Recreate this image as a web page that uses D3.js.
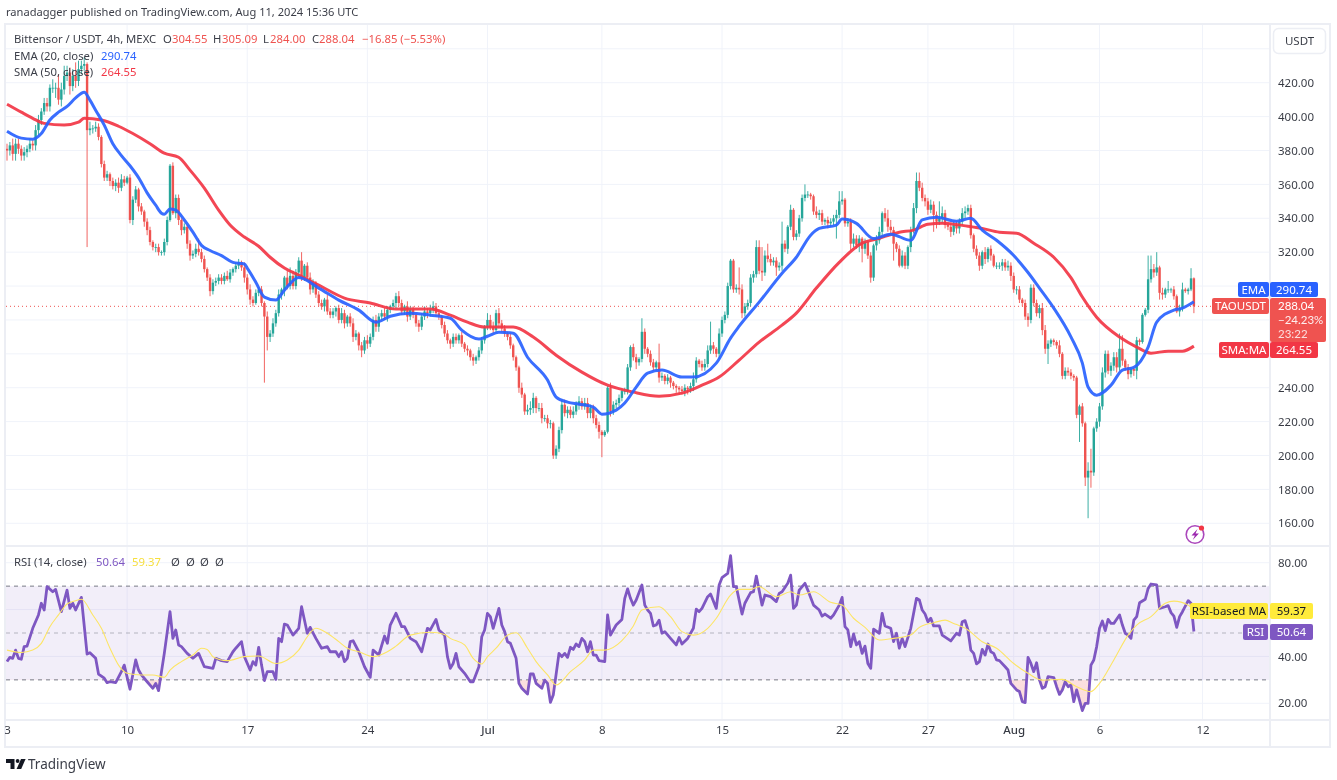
<!DOCTYPE html>
<html>
<head>
    <title>Bittensor / USDT, 4h</title>
    <script src="https://cdnjs.cloudflare.com/ajax/libs/d3/7.8.5/d3.min.js"></script>
    <style>
        html, body { margin: 0; padding: 0; background: #ffffff; }
        text { font-family: "Noto Sans", sans-serif; }
        #chart { display: block; filter: blur(0.3px); }
    </style>
</head>
<body>
<svg id="chart" width="1337" height="780"></svg>
<script>
// 4h candles, one value per candle. open = previous close
var firstOpen = 381;
var closes = [
380,383,378,384,381,377,379,381,384,383,
392,398,403,408,406,417,417,417,410,416,
424,426,418,424,421,428,430,431,392,393,
393,394,388,372,364,366,362,359,361,358,
363,361,364,339,351,357,347,344,338,333,
326,323,323,320,320,326,339,371,343,352,
339,333,335,325,318,319,322,320,316,310,
305,297,302,303,305,303,306,304,308,310,
312,314,311,305,298,292,290,296,298,290,
282,270,272,278,284,295,298,305,300,306,
300,308,315,305,312,305,298,302,295,290,
288,292,285,283,285,287,280,284,278,282,
278,270,272,265,262,268,266,270,280,276,
282,284,282,286,288,290,294,290,285,288,
282,286,283,278,276,282,285,284,286,288,
284,282,277,272,268,266,270,268,271,266,
263,262,258,256,258,262,268,276,280,276,
274,284,278,275,272,270,265,258,252,240,
236,226,227,228,234,228,228,222,222,219,
219,200,204,215,230,225,227,224,226,230,
232,229,231,225,228,222,218,214,212,214,
240,226,230,231,234,238,238,252,264,258,
255,257,273,263,260,255,252,255,246,247,
244,246,243,241,240,239,238,240,239,241,
245,256,254,252,254,262,265,263,260,272,
280,283,300,315,298,299,298,284,288,290,
305,307,323,309,308,318,316,314,315,311,
312,325,322,335,345,329,331,340,352,354,
354,353,344,342,343,338,339,337,338,340,
342,350,351,337,338,325,328,324,328,322,
326,318,305,324,327,332,343,340,335,333,
325,322,312,318,312,323,333,346,362,358,
352,350,345,348,342,338,340,343,336,335,
332,336,334,338,343,344,346,330,322,318,
312,320,316,322,318,312,312,312,314,311,
312,306,298,298,292,290,282,280,299,290,
284,287,274,263,266,268,267,265,260,247,
250,249,247,246,224,229,219,187,191,190,
216,220,229,249,260,250,253,258,252,263,
256,252,248,251,250,268,267,283,286,304,
310,308,311,296,295,298,298,298,294,285,
287,298,297,298,304.55,288.04
];
var upperWicks = [
3,2,4,3,3,2,3,2,3,2,
3,3,2,3,3,2,5,3,8,4,
6,4,3,4,8,5,3,4,1,4,
2,3,2,1,2,2,1,2,2,3,
3,2,1,2,2,2,1,2,1,2,
2,1,2,2,1,2,2,1,2,2,
2,1,2,1,2,2,3,6,2,2,
1,2,2,2,2,2,2,3,2,1,
2,2,1,3,2,3,2,2,1,2,
1,3,2,3,2,3,1,1,4,5,
3,2,2,5,1,2,3,2,1,2,
2,1,3,2,2,1,2,3,2,1,
2,3,2,1,2,2,3,2,2,3,
2,2,3,2,1,2,2,3,2,1,
3,2,2,1,2,2,3,2,3,3,
2,2,1,2,2,1,2,2,1,2,
1,2,1,2,1,2,2,1,4,3,
3,2,3,2,2,1,2,1,1,1,
3,1,3,4,3,1,3,3,2,2,
2,1,2,2,3,3,2,2,3,2,
3,2,3,3,2,2,2,2,1,1,
1,3,2,2,2,1,2,2,1,2,
2,1,8,2,1,2,2,1,11,2,
1,2,1,1,1,1,2,2,1,2,
4,2,1,2,3,3,14,2,1,3,
2,2,2,1,1,2,12,3,2,2,
2,2,4,4,14,3,7,3,2,2,
2,13,2,1,3,1,2,2,2,6,
2,1,1,3,2,2,1,2,2,2,
3,6,5,1,2,2,3,2,2,1,
2,1,2,1,3,3,1,3,5,4,
2,1,2,3,2,1,2,3,5,5,
3,2,2,3,2,2,10,4,2,2,
2,2,2,2,3,3,2,2,1,2,
2,1,3,1,2,1,2,2,2,2,
3,2,2,2,2,1,2,2,2,2,
2,2,3,3,2,1,1,1,3,1,
2,2,2,1,1,1,2,1,5,13,
1,2,2,3,2,2,2,3,3,9,
8,1,2,1,1,2,1,1,1,14,
8,3,9,1,3,1,5,1,2,1,
2,4,1,1,6,0.54
];
var lowerWicks = [
6,3,4,4,3,3,3,3,2,3,
3,3,3,2,3,3,3,6,3,4,
3,3,5,3,4,3,3,3,69,3,
3,2,2,2,2,2,3,2,3,3,
2,2,1,2,3,2,3,2,3,3,
2,2,3,2,2,2,2,1,1,3,
3,3,2,3,3,2,2,2,2,2,
2,3,2,2,2,2,2,1,2,2,
2,2,2,3,3,3,2,1,2,2,
39,8,3,2,2,2,3,4,2,2,
2,2,2,2,2,2,3,2,2,2,
2,3,2,2,2,3,2,2,3,2,
2,3,2,3,4,2,3,2,2,3,
3,2,2,3,2,2,3,2,2,2,
3,2,2,2,3,2,2,3,2,2,
2,2,2,2,2,3,2,2,2,2,
2,3,2,3,2,2,2,2,2,2,
2,2,3,2,2,2,2,2,2,3,
2,2,2,3,3,3,2,3,2,3,
3,2,2,2,2,2,3,2,2,2,
3,2,2,3,3,3,2,4,13,1,
1,3,2,2,2,2,2,2,2,2,
4,2,2,3,2,2,2,2,3,2,
2,2,3,2,3,3,2,3,3,2,
3,2,2,2,2,2,2,3,2,3,
2,2,2,2,2,2,3,3,2,2,
2,3,2,2,5,2,2,2,2,5,
2,3,2,3,2,2,2,2,2,2,
2,2,2,2,3,2,2,3,2,2,
12,2,2,2,2,4,2,2,4,8,
3,2,3,2,3,2,2,2,3,2,
10,2,1,1,2,2,3,2,3,2,
2,3,3,2,10,4,2,3,2,2,
3,2,3,3,2,3,2,2,2,2,
3,2,3,2,3,1,2,2,3,2,
2,3,2,3,2,2,2,4,2,2,
2,3,3,3,9,2,2,2,2,2,
2,2,2,2,2,16,2,5,24,9,
2,2,3,2,3,2,3,3,3,2,
3,2,3,2,3,5,2,1,1,2,
2,3,2,4,3,2,2,2,2,1,
3,2,1,2,1,4.04
];

// moving averages: [candle, price]
var ema20 = [
[0,391.4],[5,387.3],[9,386.7],[12,390],[15,398],[18,402.6],[21,406],[24,411],[27,414.4],[29,409.7],
[31,403.8],[34,395],[37,384],[40,377],[43,371],[46,364],[49,355],[52,347.7],[54,343],[55,342.4],
[57,345.4],[59,344.8],[62,339],[65,331.8],[68,324],[71,321],[75,318],[79,314],[83,313],[84,310.6],
[87,302.3],[90,293.5],[94,291.7],[97,297.6],[102,305],[109,298.8],[116,291.7],[123,285.8],[129,278.7],[134,282.2],
[141,284],[148,282.8],[155,281],[159,274],[165,268.7],[168,270.4],[172,272.8],[177,272.2],[182,258],[189,244.5],
[192,234.5],[196,231.5],[200,230.3],[205,228.5],[208,224.4],[213,226.8],[216,231],[220,240.4],[224,248.6],[229,250.4],
[236,246.3],[240,246.3],[248,254.5],[253,269.3],[256,276.3],[263,290.5],[271,307.6],[276,317],[281,330],[284,334],
[290,336],[292,339.5],[297,337],[303,328],[309,330.6],[316,327],[320,339],[325,340.6],[332,338.3],[337,340],
[341,333],[346,327],[352,318],[357,308],[361,298.8],[366,287],[372,270],[376,254.5],[378,240.4],[381,235.6],
[386,241.5],[390,250.4],[394,252],[399,264],[402,278.7],[408,285.8],[411,287],[415,290.74]
];
var sma50 = [
[0,407.3],[5,402.6],[9,399],[13,396],[20,395],[25,396.7],[27,399],[33,398],[39,394.3],[44,390],
[50,384],[55,378.4],[60,376],[64,368.4],[69,357.8],[74,344.8],[78,336],[83,328.9],[88,323.5],[92,317],
[97,310.6],[102,306.4],[109,300.5],[118,292.9],[127,290],[136,286.4],[148,286.4],[155,282.8],[161,278.7],[167,275.8],
[177,275.8],[184,269.9],[192,259.2],[201,249.2],[210,241.5],[219,237.4],[228,235],[236,236.8],[243,241.5],[249,246.3],
[256,256.3],[263,266.9],[271,276.9],[276,284],[283,298.8],[291,314],[299,325.3],[304,327.7],[312,331.8],[317,333],
[322,336.5],[327,337],[336,335.3],[341,334],[347,331.8],[353,331.2],[359,325.3],[366,317],[372,305],[376,293.5],
[381,281.6],[389,269.9],[395,264],[400,260.4],[406,261.6],[411,261.6],[415,264.55]
];

// RSI pane: [candle, value]
var rsi14 = [
[0,37.8],[1,39.6],[2,39.2],[3,42.7],[4,39.2],[5,38.8],[6,44.2],[7,44.4],[9,52],[11,57.7],[12,62.7],[13,59.8],[14,69.8],[16,67.6],[17,68.6],[19,59.1],
[21,68.3],[22,60.5],[23,62.7],[24,59.8],[26,65.2],[28,41],[29,41.6],[31,39.2],[32,32.5],[34,30.7],[35,28.8],[36,29.2],[38,28.8],[40,33.5],[41,36.3],[43,26],
[45,38.5],[46,34.2],[47,32.1],[49,29.2],[51,26.4],[52,28.5],[53,25.4],[55,41.3],[57,59.1],[58,47.7],[59,51.3],[60,44.9],[61,44.2],[63,41.3],[65,39.2],[67,41.3],
[69,35.6],[72,34.9],[73,39.2],[75,38.2],[77,37.8],[79,42],[80,43.5],[82,46.3],[83,39.9],[85,34.2],[86,37.8],[87,36.3],[88,43.9],[89,36.3],[90,29.7],[91,33.5],
[93,33.5],[94,30.2],[95,47.7],[96,46.3],[97,53.8],[98,53.4],[100,49.1],[102,52],[103,61.2],[105,49.9],[106,52.4],[108,47.7],[110,43.5],[112,44.2],[113,42],[115,42],
[116,39.9],[117,42],[118,37.8],[119,39.2],[120,46.3],[121,46.7],[123,42],[125,35.6],[127,31.1],[128,42.7],[130,40.6],[132,48.7],[133,45.6],[134,53.4],[136,58.4],[138,52.7],
[139,52.7],[141,47.7],[143,46.3],[145,42],[147,52],[148,51.3],[150,55.8],[151,51.3],[153,49.1],[154,39.9],[155,34.9],[156,37],[157,41.3],[158,35.6],[160,32.8],[162,29.2],
[163,29.2],[165,35.6],[166,48.4],[167,51.3],[168,58.4],[169,57],[170,52],[172,60.5],[173,53.4],[174,50.6],[175,46.3],[176,45.6],[178,39.2],[179,28.5],[180,26.4],[182,24],
[183,32.5],[184,32.5],[185,28.5],[187,26.4],[188,29.9],[189,28.5],[190,20.4],[191,23.5],[193,41.3],[194,39.9],[195,41.3],[196,39.6],[197,43.9],[198,43],[199,45.3],[200,44.2],
[201,47.7],[202,46.3],[203,42],[204,46.3],[205,40.6],[206,40.6],[207,38.2],[209,37.8],[210,57.7],[211,49.1],[212,51.3],[213,53.4],[215,55.8],[216,64.8],[217,68.8],[218,64.8],
[219,61.9],[220,64.1],[222,70.5],[223,61.9],[224,59.8],[225,58.4],[226,53],[227,53.4],[228,55.5],[229,49.9],[230,50.6],[232,47.7],[234,44.9],[235,48.1],[236,45.3],[238,47.7],
[240,52],[241,60.2],[242,59.1],[243,60.5],[245,65.5],[246,66.6],[248,60.5],[249,70.5],[250,73.6],[252,75.4],[253,83],[254,69.8],[255,69.8],[257,58.1],[258,62.7],[260,67.2],
[261,67.6],[262,74.3],[264,61.9],[265,66.2],[267,65.5],[269,63.4],[270,66.9],[271,67.6],[273,71.2],[274,74.7],[275,60.5],[276,61.9],[277,68.3],[279,71.2],[280,68.3],[282,61.9],
[284,59.8],[285,57.2],[286,58.1],[288,56.3],[289,57.7],[291,61.9],[292,65.2],[293,52.7],[294,51.3],[295,44.2],[296,49.6],[297,44.9],[298,46.3],[299,41.3],[300,44.4],[301,37],
[302,34.9],[303,51.6],[305,49.9],[306,58.4],[307,53],[309,52],[310,46.3],[311,49.9],[312,43.5],[313,47.7],[314,44.2],[316,52],[318,64.8],[319,64.1],[320,59.8],[321,58.1],
[322,54.8],[323,56.3],[324,53],[326,53],[327,49.1],[330,46.6],[332,49.9],[333,49.1],[334,54.8],[335,55.3],[336,51.3],[337,42.7],[338,41.3],[339,36.8],[340,37.8],[341,43],
[342,40.6],[343,45.3],[344,42],[345,41.3],[346,38.5],[347,38.2],[349,35.6],[350,34.2],[351,28.5],[353,25.7],[354,25],[355,20.7],[356,20.3],[357,39.6],[358,37],[359,33.5],
[360,37.3],[361,30],[362,26.4],[363,27.1],[364,31.4],[366,31],[367,27.1],[368,23.8],[369,25.7],[370,29.2],[371,27.1],[372,27.8],[373,20.7],[374,25.7],[376,16.9],[377,20],
[378,20],[379,36.3],[380,38.5],[381,44.2],[382,52],[383,55.1],[384,51],[385,55.8],[386,54.1],[387,54.1],[389,57.7],[390,53.4],[391,49.9],[392,49.1],[393,47.7],[394,55.5],
[395,57],[396,62.9],[398,64.4],[399,69],[400,70.9],[402,70.5],[403,60.5],[405,61.2],[406,61.7],[407,58.7],[408,57.2],[409,52.4],[410,57],[411,59.1],[413,63.8],[414,62.7],[415,50.64]
];
var rsiMa = [
[0,42.7],[5,41.7],[9,42.7],[12,45.6],[15,52.7],[18,57.7],[21,62.4],[24,63.8],[26,64.4],[30,57.7],[33,52],[36,43.5],[39,36.3],[42,32.8],[47,32.1],[51,32.1],[55,31.1],[57,34.2],
[61,37.8],[65,40.6],[68,43.5],[70,43],[72,39.9],[77,38.2],[83,39.9],[88,40.2],[94,37],[98,38.5],[102,42.7],[105,48.4],[108,52],[112,49.9],[116,46.3],[119,43.5],[123,42],[128,39.9],
[133,42],[136,44.4],[141,49.1],[148,50.3],[153,49.4],[155,47.7],[160,44.9],[163,39.2],[166,36.8],[168,39.9],[171,43.5],[175,49.1],[178,50.1],[182,43.5],[185,37.8],[189,32.1],[192,27.8],[197,33.5],
[202,38.5],[205,42.7],[209,42.7],[215,46.7],[219,53],[222,59.8],[228,61.2],[232,57],[236,50.6],[240,49.1],[245,52],[248,56.3],[253,66.2],[256,68.6],[260,68.6],[263,69.8],[269,65.5],[274,67.6],
[277,66.2],[282,67.6],[288,63.1],[292,61.9],[296,56.3],[300,52.4],[305,47],[310,47.7],[316,49.1],[319,52.4],[324,54.4],[328,55.5],[331,54.1],[336,51.3],[341,46.3],[346,43.5],[352,37],[357,32.8],
[362,29.9],[369,30.2],[374,27.1],[379,25],[382,28.5],[387,38.5],[392,49.1],[395,53.4],[400,57],[405,62.7],[408,63.6],[413,61.9],[415,59.37]
];

// axis labels
var priceTicks = [160,180,200,220,240,320,340,360,380,400,420];
var priceGrid = [160,180,200,220,240,260,280,300,320,340,360,380,400,420,440];
var rsiTicks = [20,40,80];
var rsiGrid = [20,40,60,80];
var rsiLevels = [70,50,30];
var dateTicks = [0,42,84,126,168,208,250,292,322,352,382,418];
var dateLabels = ["3","10","17","24","Jul","8","15","22","27","Aug","6","12"];

var upColor = "#26a69a", downColor = "#ef5350", gridColor = "#f0f3fa", frameColor = "#eceef4",
    emaColor = "#2962ff", smaColor = "#f23645", rsiColor = "#7e57c2", maColor = "#ffeb3b",
    textColor = "#131722";

// "top" is taken by window.top, so the frame edges get plain names of their own
var paneLeft = 6, axisX = 1270, frameRight = 1330, paneTop = 24, paneSplit = 546, rsiBottom = 720, frameBottom = 747;

var svg = d3.select("#chart");
var x = d3.scaleLinear().domain([0, 415]).range([7, 7 + 2.86 * 415]);
var y = d3.scaleLinear().domain([160, 420]).range([523.3, 82.7]);
var yRsi = d3.scaleLinear().domain([20, 80]).range([703.3, 562.7]);

var candles = closes.map(function (c, i) {
    var o = i === 0 ? firstOpen : closes[i - 1];
    return { i: i, o: o, c: c, h: Math.max(o, c) + upperWicks[i], l: Math.min(o, c) - lowerWicks[i] };
});

var defs = svg.append("defs");
defs.append("clipPath").attr("id", "pricePane").append("rect")
    .attr("x", paneLeft).attr("y", paneTop).attr("width", axisX - paneLeft).attr("height", paneSplit - paneTop);
defs.append("clipPath").attr("id", "rsiPane").append("rect")
    .attr("x", paneLeft).attr("y", paneSplit).attr("width", axisX - paneLeft).attr("height", rsiBottom - paneSplit);
defs.append("clipPath").attr("id", "dateBand").append("rect")
    .attr("x", paneLeft - 1).attr("y", rsiBottom).attr("width", axisX - paneLeft).attr("height", frameBottom - rsiBottom);
defs.append("clipPath").attr("id", "belowThirty").append("rect")
    .attr("x", paneLeft).attr("y", yRsi(30)).attr("width", axisX - paneLeft).attr("height", rsiBottom - yRsi(30));
var oversold = defs.append("linearGradient").attr("id", "oversold").attr("x1", 0).attr("x2", 0).attr("y1", 0).attr("y2", 1);
oversold.append("stop").attr("offset", "0%").attr("stop-color", "#ef5350").attr("stop-opacity", 0.02);
oversold.append("stop").attr("offset", "100%").attr("stop-color", "#ef5350").attr("stop-opacity", 0.22);

// grid
var grid = svg.append("g").attr("stroke", gridColor).attr("stroke-width", 1);
grid.selectAll(".v").data(dateTicks.slice(1)).join("line")
    .attr("x1", function (d) { return x(d); }).attr("x2", function (d) { return x(d); })
    .attr("y1", paneTop).attr("y2", rsiBottom);
grid.selectAll(".h").data(priceGrid).join("line")
    .attr("x1", paneLeft).attr("x2", axisX)
    .attr("y1", function (d) { return y(d); }).attr("y2", function (d) { return y(d); });
grid.selectAll(".r").data(rsiGrid).join("line")
    .attr("x1", paneLeft).attr("x2", axisX)
    .attr("y1", function (d) { return yRsi(d); }).attr("y2", function (d) { return yRsi(d); });

// price pane
var pricePane = svg.append("g").attr("clip-path", "url(#pricePane)");
pricePane.append("line")
    .attr("x1", paneLeft).attr("x2", axisX)
    .attr("y1", y(288.04)).attr("y2", y(288.04))
    .attr("stroke", downColor).attr("stroke-width", 1).attr("stroke-dasharray", "1 3");

var candleG = pricePane.selectAll(".candle").data(candles).join("g")
    .attr("fill", function (d) { return d.c >= d.o ? upColor : downColor; })
    .attr("stroke", function (d) { return d.c >= d.o ? upColor : downColor; });
candleG.append("line")
    .attr("x1", function (d) { return x(d.i); }).attr("x2", function (d) { return x(d.i); })
    .attr("y1", function (d) { return y(d.h); }).attr("y2", function (d) { return y(d.l); })
    .attr("stroke-width", 0.9);
candleG.append("rect")
    .attr("stroke", "none")
    .attr("x", function (d) { return x(d.i) - 1.2; }).attr("width", 2.4)
    .attr("y", function (d) { return y(Math.max(d.o, d.c)); })
    .attr("height", function (d) { return Math.max(0.8, Math.abs(y(d.o) - y(d.c))); });

var priceLine = d3.line()
    .x(function (d) { return x(d[0]); }).y(function (d) { return y(d[1]); })
    .curve(d3.curveMonotoneX);
pricePane.append("path").attr("d", priceLine(sma50)).attr("fill", "none").attr("stroke", smaColor).attr("stroke-width", 3).attr("stroke-opacity", 0.92);
pricePane.append("path").attr("d", priceLine(ema20)).attr("fill", "none").attr("stroke", emaColor).attr("stroke-width", 3).attr("stroke-opacity", 0.92);

// rsi pane
var rsiPane = svg.append("g").attr("clip-path", "url(#rsiPane)");
rsiPane.append("rect")
    .attr("x", paneLeft).attr("width", axisX - paneLeft)
    .attr("y", yRsi(70)).attr("height", yRsi(30) - yRsi(70))
    .attr("fill", rsiColor).attr("fill-opacity", 0.1);
rsiPane.append("path")
    .attr("clip-path", "url(#belowThirty)")
    .attr("d", d3.area()
        .x(function (d) { return x(d[0]); })
        .y0(yRsi(30)).y1(function (d) { return yRsi(d[1]); })(rsi14))
    .attr("fill", "url(#oversold)");
rsiPane.selectAll(".level").data(rsiLevels).join("line")
    .attr("x1", paneLeft).attr("x2", axisX)
    .attr("y1", function (d) { return yRsi(d); }).attr("y2", function (d) { return yRsi(d); })
    .attr("stroke", "#787b86").attr("stroke-width", 1).attr("stroke-dasharray", "4 4")
    .attr("stroke-opacity", function (d) { return d === 50 ? 0.5 : 1; });

var rsiLine = d3.line().x(function (d) { return x(d[0]); }).y(function (d) { return yRsi(d[1]); });
rsiPane.append("path").attr("d", rsiLine(rsi14)).attr("fill", "none").attr("stroke", rsiColor).attr("stroke-width", 2.8).attr("stroke-linejoin", "round");
rsiPane.append("path").attr("d", rsiLine.curve(d3.curveMonotoneX)(rsiMa)).attr("fill", "none").attr("stroke", "#fde566").attr("stroke-width", 1.1);

// frame
var frame = svg.append("g").attr("fill", "none").attr("stroke", frameColor).attr("stroke-width", 2);
frame.append("rect").attr("x", paneLeft - 1).attr("y", paneTop).attr("width", frameRight - paneLeft + 1).attr("height", frameBottom - paneTop);
frame.append("line").attr("x1", paneLeft).attr("x2", frameRight).attr("y1", paneSplit).attr("y2", paneSplit);
frame.append("line").attr("x1", paneLeft).attr("x2", frameRight).attr("y1", rsiBottom).attr("y2", rsiBottom);
frame.append("line").attr("x1", axisX).attr("x2", axisX).attr("y1", paneTop).attr("y2", frameBottom);

// axes
function styleAxis(g) {
    g.select(".domain").remove();
    g.selectAll("text").attr("fill", textColor).attr("font-size", 11.5).attr("opacity", 0.85)
        .style("font-family", '"Noto Sans", sans-serif');
}
svg.append("g").attr("transform", "translate(" + (axisX + 1) + ",0)")
    .call(d3.axisRight(y).tickValues(priceTicks).tickSize(0).tickPadding(7).tickFormat(d3.format(".2f")))
    .call(styleAxis);
svg.append("g").attr("transform", "translate(" + (axisX + 1) + ",0)")
    .call(d3.axisRight(yRsi).tickValues(rsiTicks).tickSize(0).tickPadding(7).tickFormat(d3.format(".2f")))
    .call(styleAxis);
svg.append("g").attr("clip-path", "url(#dateBand)")
    .append("g").attr("transform", "translate(0," + rsiBottom + ")")
    .call(d3.axisBottom(x).tickValues(dateTicks).tickSize(0).tickPadding(6)
        .tickFormat(function (d) { return dateLabels[dateTicks.indexOf(d)]; }))
    .call(styleAxis)
    .selectAll("text").attr("font-weight", function (d) { return d === 168 || d === 352 ? 500 : 400; });

// USDT button
svg.append("rect").attr("x", 1273.5).attr("y", 28.5).attr("width", 52).attr("height", 25).attr("rx", 5)
    .attr("fill", "#ffffff").attr("stroke", frameColor).attr("stroke-width", 1.5);
svg.append("text").attr("x", 1299.5).attr("y", 45).attr("text-anchor", "middle")
    .attr("font-size", 11.5).attr("fill", textColor).attr("opacity", 0.85).text("USDT");

// legend
function legend(xPos, yPos, str, color, size) {
    svg.append("text").attr("x", xPos).attr("y", yPos).attr("font-size", size || 11.3).attr("fill", color).text(str);
}
var ink = "#3b3e48";
legend(6, 16, "ranadagger published on TradingView.com, Aug 11, 2024 15:36 UTC", ink, 11.1);
legend(14, 43, "Bittensor / USDT, 4h, MEXC", ink);
[["O", 163, "304.55", 172], ["H", 213, "305.09", 222], ["L", 263, "284.00", 270], ["C", 312, "288.04", 319]].forEach(function (r) {
    legend(r[1], 43, r[0], ink);
    legend(r[3], 43, r[2], downColor);
});
legend(362, 43, "\u221216.85 (\u22125.53%)", downColor);
legend(14, 60, "EMA (20, close)", ink);
legend(101, 60, "290.74", emaColor);
legend(14, 76, "SMA (50, close)", ink);
legend(101, 76, "264.55", smaColor);
legend(14, 566, "RSI (14, close)", ink);
legend(96, 566, "50.64", rsiColor);
legend(132, 566, "59.37", "#f7df3c");
[171, 186, 200, 215].forEach(function (p) { legend(p, 566, "\u00d8", ink); });

// value tags on the right edge
function tag(x0, x1, y0, y1, color, str, fg) {
    svg.append("rect").attr("x", x0).attr("y", y0).attr("width", x1 - x0).attr("height", y1 - y0).attr("rx", 2).attr("fill", color);
    if (str) {
        svg.append("text").attr("x", (x0 + x1) / 2).attr("y", (y0 + y1) / 2 + 4).attr("text-anchor", "middle")
            .attr("font-size", 11.5).attr("fill", fg || "#ffffff").text(str);
    }
}
tag(1238, 1269, 282, 297, emaColor, "EMA");
tag(1270, 1318, 282, 297, emaColor, "290.74");
tag(1212, 1269, 298, 314, downColor, "TAOUSDT");
tag(1270, 1326, 298, 342, downColor, "");
// Lato here: its line box stays under the 14px row height at this size
[["288.04", 310, 1], ["\u221224.23%", 324, 0.9], ["23:22", 338, 0.8]].forEach(function (r) {
    svg.append("text").attr("x", 1278).attr("y", r[1]).attr("font-size", 11.5).style("font-family", "Lato, sans-serif")
        .attr("fill", "#ffffff").attr("opacity", r[2]).text(r[0]);
});
tag(1219, 1269, 342, 358, smaColor, "SMA:MA");
tag(1270, 1318, 342, 358, smaColor, "264.55");
tag(1190, 1268, 603, 619, maColor, "RSI-based MA", textColor);
tag(1270, 1313, 603, 619, maColor, "59.37", textColor);
tag(1243, 1268, 624, 640, rsiColor, "RSI");
tag(1270, 1313, 624, 640, rsiColor, "50.64");

// bolt badge
svg.append("circle").attr("cx", 1195).attr("cy", 534.5).attr("r", 8.8)
    .attr("fill", "#ffffff").attr("stroke", "#ab47bc").attr("stroke-width", 1.6);
svg.append("path").attr("d", "M1197.5 529 l-6 6.5 h3.4 l-2.2 4.6 l6.2 -6.6 h-3.4 z").attr("fill", "#9c27b0");
svg.append("circle").attr("cx", 1201.5).attr("cy", 528).attr("r", 2.6).attr("fill", "#f23645");

// logo
var logo = svg.append("g").attr("fill", "#131722");
logo.append("path").attr("d", "M6 759 h8.5 v10 h-4 v-6 h-4.5 z");
logo.append("circle").attr("cx", 17.6).attr("cy", 761).attr("r", 1.9);
logo.append("path").attr("d", "M21 759 h4.6 l-4.4 10 h-4.6 z");
svg.append("text").attr("x", 28).attr("y", 769).attr("font-size", 13.5).attr("fill", "#3b3e48").text("TradingView");
</script>
</body>
</html>
